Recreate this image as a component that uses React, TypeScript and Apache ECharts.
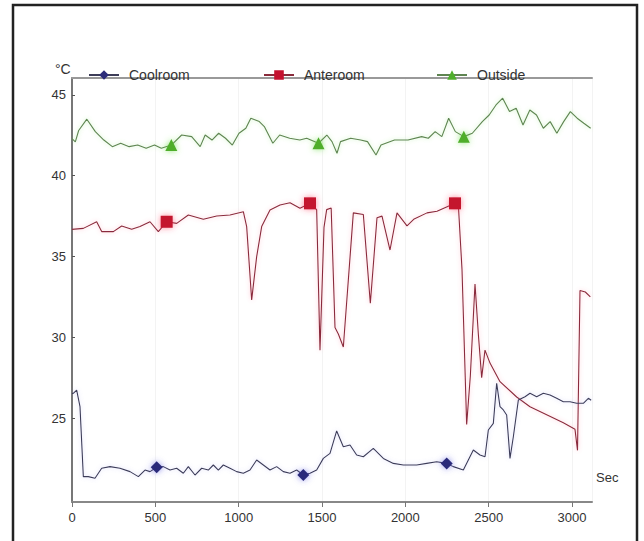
import React, { useEffect, useRef } from "react";
import * as echarts from "echarts";

// Time (s) / temperature (°C) readings
const coolroom: [number, number][] = [
  [0, 26.5], [8, 26.53], [28, 26.73], [48, 25.7], [68, 21.37], [98, 21.37], [138, 21.27],
  [178, 21.89], [228, 21.99], [288, 21.89], [348, 21.68], [398, 21.37], [438, 21.78],
  [468, 21.68], [508, 21.95], [548, 21.99], [588, 21.78], [628, 21.89], [668, 21.58],
  [698, 21.99], [738, 21.47], [778, 21.89], [818, 21.78], [848, 22.09], [878, 21.78],
  [908, 22.09], [948, 21.89], [988, 21.68], [1028, 21.58], [1068, 21.78], [1108, 22.4],
  [1148, 22.09], [1188, 21.78], [1228, 21.99], [1268, 21.68], [1308, 21.58], [1348, 21.78],
  [1388, 21.47], [1428, 21.58], [1468, 21.78], [1508, 22.5], [1548, 22.81], [1588, 24.2],
  [1628, 23.22], [1668, 23.33], [1708, 22.71], [1748, 22.6], [1808, 23.12], [1868, 22.5],
  [1928, 22.19], [1988, 22.09], [2068, 22.09], [2128, 22.19], [2188, 22.29], [2248, 22.19],
  [2288, 21.99], [2348, 21.78], [2378, 22.4], [2408, 23.02], [2448, 22.71], [2478, 22.6],
  [2498, 24.26], [2528, 24.67], [2548, 27.15], [2568, 25.7], [2588, 25.5], [2608, 25.19],
  [2628, 22.5], [2648, 23.84], [2678, 26.11], [2718, 26.32], [2748, 26.53], [2788, 26.32],
  [2828, 26.53], [2868, 26.42], [2908, 26.22], [2948, 26.01], [2988, 26.01], [3028, 25.91],
  [3068, 25.91], [3098, 26.22], [3115, 26.1],
];

const anteroom: [number, number][] = [
  [0, 36.68], [68, 36.74], [148, 37.15], [178, 36.54], [248, 36.54], [298, 36.89],
  [358, 36.68], [408, 36.85], [468, 37.15], [518, 36.54], [568, 37.15], [628, 37.05],
  [698, 37.57], [788, 37.3], [868, 37.51], [948, 37.57], [1028, 37.77], [1048, 36.85],
  [1078, 32.31], [1108, 34.99], [1138, 36.85], [1188, 37.88], [1248, 38.19], [1308, 38.33],
  [1368, 37.98], [1428, 38.29], [1468, 37.9], [1488, 29.2], [1512, 36.8], [1528, 37.9],
  [1555, 38.0], [1578, 30.6], [1598, 30.2], [1628, 29.4], [1688, 37.7], [1748, 37.6],
  [1790, 32.1], [1830, 37.4], [1860, 37.5], [1908, 35.4], [1950, 37.7], [2010, 36.9],
  [2050, 37.3], [2130, 37.7], [2190, 37.8], [2298, 38.29], [2318, 38.2], [2340, 34.2],
  [2368, 24.6], [2390, 27.6], [2418, 33.3], [2438, 30.2], [2458, 27.5], [2478, 29.2],
  [2508, 28.4], [2568, 27.25], [2668, 26.3], [2748, 25.7], [2848, 25.2], [2948, 24.7],
  [3018, 24.3], [3033, 23.0], [3048, 32.9], [3080, 32.8], [3110, 32.5],
];

const outside: [number, number][] = [
  [0, 42.3], [20, 42.1], [40, 42.8], [89, 43.5], [140, 42.73], [191, 42.21], [242, 41.8],
  [292, 42.01], [343, 41.8], [394, 41.9], [445, 41.7], [495, 41.9], [536, 41.7], [596, 41.9],
  [658, 42.52], [718, 42.42], [769, 41.8], [799, 42.52], [840, 42.21], [880, 42.63],
  [921, 42.32], [962, 41.9], [1002, 42.63], [1043, 42.94], [1073, 43.56], [1124, 43.35],
  [1154, 43.04], [1205, 42.01], [1246, 42.52], [1306, 42.32], [1367, 42.21], [1408, 42.32],
  [1479, 42.01], [1529, 42.52], [1560, 42.11], [1590, 41.39], [1611, 42.11], [1672, 42.32],
  [1732, 42.21], [1773, 42.11], [1824, 41.28], [1854, 41.9], [1935, 42.21], [2016, 42.21],
  [2098, 42.42], [2138, 42.32], [2179, 42.73], [2219, 42.42], [2260, 43.56], [2300, 42.73],
  [2351, 42.42], [2402, 42.63], [2462, 43.35], [2503, 43.76], [2544, 44.38], [2584, 44.8],
  [2625, 43.97], [2665, 44.18], [2706, 43.14], [2747, 44.07], [2787, 43.76], [2828, 42.94],
  [2869, 43.35], [2909, 42.63], [2950, 43.35], [2990, 43.97], [3031, 43.56], [3071, 43.25],
  [3112, 42.94],
];

// Times at which each series shows its marker
const coolMarkers = [508, 1388, 2248];
const anteMarkers = [568, 1428, 2298];
const outMarkers = [596, 1479, 2351];

const yLabelValues = [25, 30, 35, 40, 45];
const seriesNames = ["Coolroom", "Anteroom", "Outside"];

const labelFont = "'Liberation Sans Narrow', 'Liberation Sans', Arial, sans-serif";
const legendFont = "'Liberation Sans', Arial, sans-serif";

function buildData(points: [number, number][], markers: number[]) {
  return points.map(([t, v]) =>
    markers.includes(t) ? { value: [t, v] } : { value: [t, v], symbol: "none" }
  );
}

export default function App() {
  const ref = useRef<HTMLDivElement>(null);

  useEffect(() => {
    if (!ref.current) return;
    const chart = echarts.init(ref.current, undefined, { renderer: "svg" });

    const mkLegend = (name: string, left: number) => ({
      data: [name],
      left,
      top: 63,
      itemWidth: 30,
      itemHeight: 12,
      selectedMode: false,
      textStyle: {
        fontFamily: legendFont,
        fontSize: 14,
        color: "#333",
        padding: [0, 0, 0, 5],
      },
    });

    chart.setOption({
      animation: false,
      backgroundColor: "#fff",
      grid: { left: 72, right: 52, top: 78, bottom: 39 },
      legend: [
        mkLegend(seriesNames[0], 83),
        mkLegend(seriesNames[1], 258),
        mkLegend(seriesNames[2], 431),
      ],
      xAxis: [
        {
          type: "value",
          min: 0,
          max: 3120,
          interval: 500,
          axisLine: { show: true, lineStyle: { color: "#888", width: 2 } },
          axisTick: { show: true, length: 5, lineStyle: { color: "#777" } },
          axisLabel: {
            margin: 9,
            fontFamily: labelFont,
            fontSize: 13,
            color: "#333",
            showMaxLabel: false,
            formatter: (v: number) => String(v),
          },
          splitLine: { show: true, lineStyle: { color: "#f3f3f3", width: 1 } },
        },
        {
          type: "value",
          position: "top",
          min: 0,
          max: 3120,
          axisLine: { show: true, lineStyle: { color: "#999", width: 2 } },
          axisTick: { show: false },
          axisLabel: { show: false },
          splitLine: { show: false },
        },
      ],
      yAxis: [
        {
          type: "value",
          min: 19.8,
          max: 46.05,
          axisLine: {
            show: true,
            lineStyle: { color: "#555", width: 1, type: [3, 2] },
          },
          axisTick: {
            show: true,
            customValues: yLabelValues,
            length: 3,
            inside: true,
            lineStyle: { color: "#555" },
          },
          axisLabel: {
            customValues: yLabelValues,
            margin: 6,
            fontFamily: labelFont,
            fontSize: 13,
            color: "#333",
          },
          splitLine: { show: false },
        },
        {
          type: "value",
          position: "right",
          min: 19.8,
          max: 46.05,
          axisLine: { show: true, lineStyle: { color: "#777", width: 2 } },
          axisTick: { show: false },
          axisLabel: { show: false },
          splitLine: { show: false },
        },
      ],
      graphic: [
        {
          type: "rect",
          shape: { x: 13, y: 5, width: 624, height: 580 },
          style: { fill: "none", stroke: "#222", lineWidth: 2.5 },
          silent: true,
        },
        {
          type: "text",
          left: 55,
          top: 62,
          style: { text: "°C", fontFamily: legendFont, fontSize: 14, fill: "#333" },
        },
        {
          type: "text",
          left: 596,
          top: 471,
          style: { text: "Sec", fontFamily: labelFont, fontSize: 13, fill: "#333" },
        },
      ],
      series: [
        {
          name: seriesNames[2],
          type: "line",
          data: buildData(outside, outMarkers),
          symbol: "triangle",
          symbolSize: 12,
          showSymbol: true,
          showAllSymbol: true,
          lineStyle: {
            color: "#5f8552",
            width: 1.1,
            shadowBlur: 4,
            shadowColor: "rgba(120,220,90,0.45)",
          },
          itemStyle: {
            color: "#4fae2c",
            shadowBlur: 6,
            shadowColor: "rgba(100,220,60,0.7)",
          },
          emphasis: { disabled: true },
          z: 2,
        },
        {
          name: seriesNames[1],
          type: "line",
          data: buildData(anteroom, anteMarkers),
          symbol: "rect",
          symbolSize: 12,
          showSymbol: true,
          showAllSymbol: true,
          lineStyle: {
            color: "#8a2c3c",
            width: 1.1,
            shadowBlur: 4,
            shadowColor: "rgba(255,110,140,0.45)",
          },
          itemStyle: {
            color: "#c4122f",
            shadowBlur: 6,
            shadowColor: "rgba(255,60,90,0.6)",
          },
          emphasis: { disabled: true },
          z: 3,
        },
        {
          name: seriesNames[0],
          type: "line",
          data: buildData(coolroom, coolMarkers),
          symbol: "diamond",
          symbolSize: 12,
          showSymbol: true,
          showAllSymbol: true,
          lineStyle: {
            color: "#3d3d58",
            width: 1.1,
            shadowBlur: 4,
            shadowColor: "rgba(150,150,230,0.4)",
          },
          itemStyle: {
            color: "#2c2c7a",
            shadowBlur: 6,
            shadowColor: "rgba(80,80,220,0.6)",
          },
          emphasis: { disabled: true },
          z: 4,
        },
      ],
    });

    return () => chart.dispose();
  }, []);

  return (
    <div
      ref={ref}
      style={{ position: "absolute", left: 0, top: 0, width: 644, height: 541, background: "#fff" }}
    />
  );
}
